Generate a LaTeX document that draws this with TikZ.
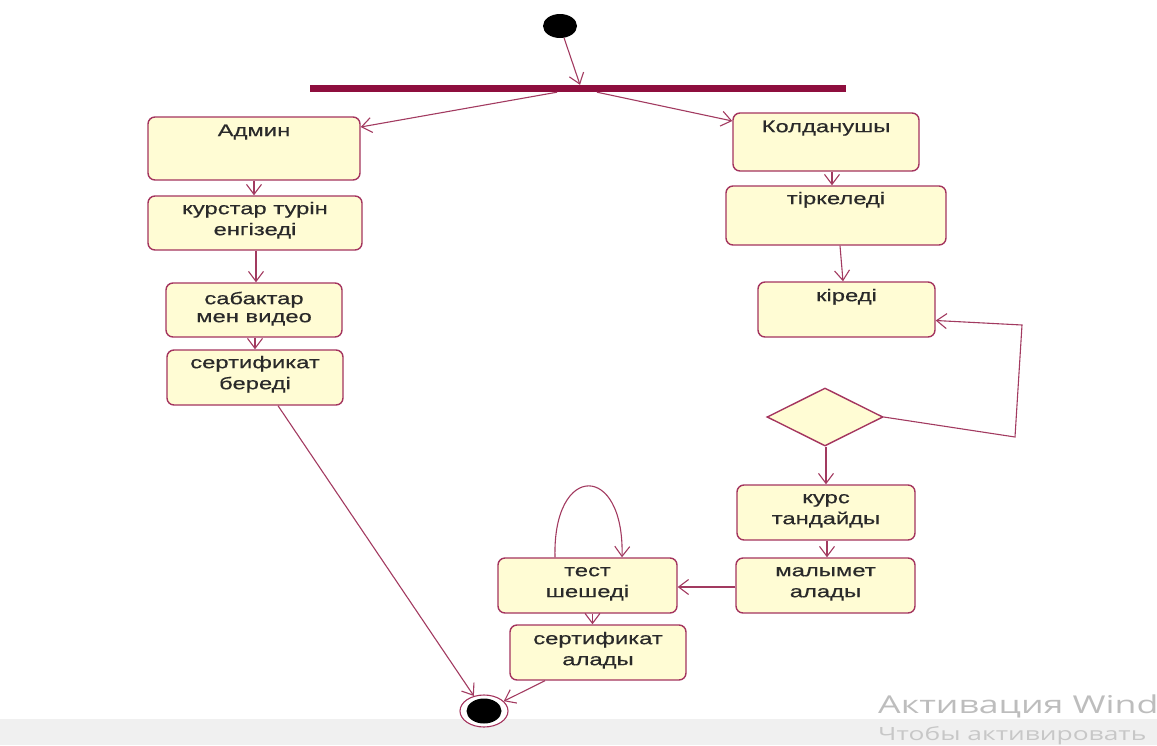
\documentclass[tikz,border=0pt]{standalone}
\usepackage{fontspec}
\setmainfont{Liberation Sans}[FakeStretch=1.4,FakeBold=0.4]
\newfontfamily\wmfont{Open Sans}[FakeStretch=1.45]
\usetikzlibrary{arrows.meta,shapes.geometric}
\definecolor{boxfill}{HTML}{FFFCD4}
\definecolor{boxline}{HTML}{A4345E}
\definecolor{linec}{HTML}{A23A60}
\definecolor{barc}{HTML}{8E0E3E}
\definecolor{textc}{HTML}{2A2A2A}
\definecolor{bandc}{HTML}{F0F0F0}
\definecolor{wmc}{HTML}{BDBDBD}
\begin{document}
\begin{tikzpicture}[x=1pt,y=-1pt,
  box/.style={draw=boxline, fill=boxfill, line width=1.4pt, rounded corners=7pt, inner sep=0pt},
  txt/.style={anchor=north, align=center, inner sep=0pt, text=textc, font=\fontsize{17}{21}\selectfont},
  arr/.style={draw=linec, line width=1.1pt, -{Straight Barb[length=10pt,width=15pt]}},
  wm/.style={anchor=base west, inner sep=0pt, text=wmc}]
\useasboundingbox (0,0) rectangle (1157,745);
\fill[bandc] (0,719) rectangle (1157,745);

% start and fork
\node[ellipse, fill=black, minimum width=34pt, minimum height=24pt, inner sep=0pt] (start) at (560,26) {};
\node[fill=barc, minimum width=536pt, minimum height=7pt, inner sep=0pt] (fork) at (578,88.5) {};

% left column
\node[box, minimum width=212pt, minimum height=63pt] (admin) at (254,148.5) {};
\node[box, minimum width=214pt, minimum height=54pt] (kurs) at (255,223) {};
\node[box, minimum width=176pt, minimum height=54pt] (sabak) at (254,310) {};
\node[box, minimum width=176pt, minimum height=55pt] (sertb) at (255,377.5) {};

% right column
\node[box, minimum width=186pt, minimum height=58pt] (kold) at (826,142) {};
\node[box, minimum width=220pt, minimum height=59pt] (tirk) at (836,215.5) {};
\node[box, minimum width=177pt, minimum height=55pt] (kired) at (846.5,309.5) {};
\node[diamond, draw=boxline, fill=boxfill, line width=1.4pt, minimum width=116pt, minimum height=58pt, inner sep=0pt] (dia) at (825,417) {};
\node[box, minimum width=178pt, minimum height=55pt] (kurst) at (826,512.5) {};
\node[box, minimum width=179pt, minimum height=55pt] (malym) at (825.5,585.5) {};
\node[box, minimum width=179pt, minimum height=55pt] (test) at (587.5,585.5) {};
\node[box, minimum width=176pt, minimum height=55pt] (serta) at (598,652.5) {};

% final
\node[ellipse, draw=boxline, fill=white, line width=1.1pt, minimum width=48pt, minimum height=32pt, inner sep=0pt] (final) at (484,711) {};
\node[ellipse, fill=black, minimum width=35pt, minimum height=25pt, inner sep=0pt] (finalin) at (final.center) {};

% texts
\node[txt] (tadmin) at ([yshift=-5pt]admin.north) {\strut Админ};
\node[txt] (tkurs) at ([yshift=-4pt]kurs.north) {\strut курстар турін\\\strut енгізеді};
\node[txt] (tsabak) at ([yshift=-7pt]sabak.north) {\strut сабактар\\[-3pt]\strut мен видео};
\node[txt] (tsertb) at ([yshift=-4pt]sertb.north) {\strut сертификат\\\strut береді};
\node[txt] (tkold) at ([yshift=-5pt]kold.north) {\strut Колданушы};
\node[txt] (ttirk) at ([yshift=-4pt]tirk.north) {\strut тіркеледі};
\node[txt] (tkired) at ([yshift=-5pt]kired.north) {\strut кіреді};
\node[txt] (tkurst) at ([yshift=-4pt]kurst.north) {\strut курс\\\strut тандайды};
\node[txt] (tmalym) at ([yshift=-4pt]malym.north) {\strut малымет\\\strut алады};
\node[txt] (ttest) at ([yshift=-4pt]test.north) {\strut тест\\\strut шешеді};
\node[txt] (tserta) at ([yshift=-5pt]serta.north) {\strut сертификат\\\strut алады};

% connectors
\draw[arr] (start) -- ([xshift=2pt]fork.north);
\draw[arr] ([xshift=-21pt]fork.south) -- ([yshift=21.5pt]admin.east);
\draw[arr] ([xshift=19pt]fork.south) -- ([yshift=21pt]kold.west);
\draw[arr] (admin.south) -- (admin.south |- kurs.north);
\draw[arr] ([xshift=1pt]kurs.south) -- ([xshift=1pt]kurs.south |- sabak.north);
\draw[arr] ([xshift=1pt]sabak.south) -- ([xshift=1pt]sabak.south |- sertb.north);
\draw[arr] ([xshift=6pt]kold.south) -- ([xshift=6pt]kold.south |- tirk.north);
\draw[arr] ([xshift=4pt]tirk.south) -- ([xshift=7pt]tirk.south |- kired.north);
\coordinate (lp1) at (1015,437);
\coordinate (lp2) at (1022,325);
\draw[arr] (dia.east) -- (lp1) -- (lp2) -- ([yshift=-11pt]kired.east);
\draw[arr] ([xshift=1pt]dia.south) -- ([xshift=1pt]dia.south |- kurst.north);
\draw[arr] ([xshift=1pt]kurst.south) -- ([xshift=1pt]kurst.south |- malym.north);
\draw[arr] ([yshift=-1.5pt]malym.west) -- ([yshift=-1.5pt]malym.west -| test.east);
\draw[arr] ([xshift=-32.5pt]test.north) .. controls ([xshift=-35pt,yshift=95pt]test.north) and ([xshift=37pt,yshift=95pt]test.north) .. ([xshift=34.5pt]test.north);
\draw[arr] ([xshift=5pt]test.south) -- ([xshift=5pt]test.south |- serta.north);
\draw[arr] ([xshift=23pt]sertb.south) -- (final);
\draw[arr] ([xshift=-53pt]serta.south) -- (final);

% watermark
\node[wm, font=\wmfont\fontsize{24.6}{28}\selectfont] (wm1) at (878,713) {Активация Wind};
\node[wm, font=\wmfont\fontsize{18.2}{21}\selectfont, text=wmc!85] (wm2) at (878,740) {Чтобы активировать};
\end{tikzpicture}
\end{document}
